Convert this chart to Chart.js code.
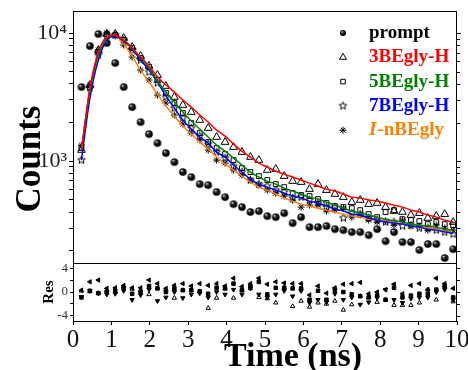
<!DOCTYPE html>
<html>
<head>
<meta charset="utf-8">
<script src="https://cdn.jsdelivr.net/npm/chart.js@4.4.1/dist/chart.umd.min.js"></script>
<style>
  html, body { margin: 0; padding: 0; background: #fff; }
</style>
</head>
<body>
<canvas id="decay" width="468" height="370"></canvas>
<script>
// time axis (ns), one entry per channel group
const times = [0.22, 0.44, 0.66, 0.88, 1.10, 1.32, 1.54, 1.76, 1.98, 2.20, 2.42, 2.64, 2.86, 3.08, 3.30,
  3.52, 3.74, 3.96, 4.18, 4.40, 4.62, 4.84, 5.06, 5.28, 5.50, 5.72, 5.94, 6.16, 6.38, 6.60,
  6.82, 7.04, 7.26, 7.48, 7.70, 7.92, 8.14, 8.36, 8.58, 8.80, 9.02, 9.24, 9.46, 9.68, 9.90];

// instrument response
const prompt = [3785, 7914, 9821, 8354, 5830, 3785, 2641, 2017, 1625, 1382, 1155, 982, 821, 750, 661,
  649, 573, 523, 461, 437, 400, 407, 372, 365, 392, 328, 365, 305, 305, 311,
  294, 289, 279, 279, 264, 294, 237, 279, 233, 233, 202, 225, 225, 175, 205];

// measured decays
const be3 = [1219, 3924, 7365, 9821, 9821, 9141, 7773, 6612, 5525, 4697, 3853, 3162, 2738, 2414, 2091,
  1810, 1540, 1407, 1286, 1176, 1075, 1018, 851, 866, 763, 698, 685, 604, 661, 593,
  553, 523, 478, 496, 461, 470, 437, 407, 400, 379, 392, 359, 372, 385, 334];
const be5 = [1264, 3785, 7107, 9821, 9647, 8816, 7635, 6379, 5426, 4296, 3398, 2838, 2371, 1981, 1655,
  1407, 1264, 1134, 1018, 882, 821, 763, 711, 661, 626, 562, 543, 533, 505, 470,
  445, 437, 429, 414, 385, 365, 400, 414, 352, 346, 340, 322, 334, 322, 316];
const be7 = [1018, 3718, 6732, 9475, 9647, 8816, 7365, 6153, 4958, 4068, 3162, 2594, 2168, 1810, 1568,
  1358, 1176, 1055, 914, 821, 711, 661, 638, 593, 573, 514, 523, 496, 470, 437,
  437, 359, 392, 385, 359, 346, 334, 334, 311, 316, 300, 300, 289, 279, 269];
const beN = [1334, 3924, 7365, 10000, 9475, 8058, 6494, 5140, 4296, 3278, 2838, 2288, 1945, 1655, 1459,
  1219, 1018, 965, 851, 777, 711, 649, 593, 562, 533, 496, 437, 453, 453, 407,
  414, 429, 365, 379, 346, 334, 340, 316, 346, 311, 311, 289, 316, 300, 289];

// fitted curves
const fit3 = [1219, 3718, 7107, 9307, 9647, 8816, 7635, 6494, 5525, 4532, 3924, 3459, 2996, 2641, 2288,
  2017, 1746, 1568, 1358, 1197, 1075, 965, 898, 835, 791, 750, 711, 673, 638, 604,
  583, 553, 523, 514, 496, 487, 470, 453, 437, 414, 400, 379, 365, 346, 334];
const fit5 = [1219, 3587, 6732, 9141, 9647, 8816, 7635, 6379, 5330, 4217, 3459, 2890, 2414, 2054, 1778,
  1540, 1334, 1197, 1055, 931, 821, 750, 698, 661, 615, 583, 553, 523, 505, 478,
  453, 429, 407, 392, 379, 365, 352, 340, 334, 322, 316, 311, 305, 294, 289];
const fit7 = [1018, 3106, 6153, 8816, 9475, 8660, 7499, 6153, 5140, 4142, 3219, 2594, 2091, 1778, 1540,
  1382, 1176, 1075, 931, 821, 724, 661, 626, 593, 562, 533, 514, 487, 470, 445,
  422, 407, 385, 379, 359, 346, 334, 328, 322, 311, 305, 294, 289, 279, 274];
const fitN = [1219, 3587, 6732, 9141, 9475, 8206, 6612, 5140, 4142, 3337, 2690, 2247, 1877, 1625, 1407,
  1241, 1075, 948, 851, 763, 685, 626, 593, 553, 514, 487, 461, 445, 429, 414,
  400, 385, 372, 365, 352, 346, 340, 328, 322, 311, 305, 300, 294, 284, 279];

// weighted residuals
const res3 = [0.3, 1.7, 2.0, 0.6, 0.7, 1.1, 0.7, 0.7, 2.0, 1.4, 0.6, 1.1, 1.4, 1.0, 1.4,
  1.1, 1.4, 1.0, 2.3, 0.9, 1.4, 2.3, 1.3, 1.7, 1.5, 1.4, 1.4, -0.5, 1.0, -0.2,
  0.7, 1.3, 1.4, 1.6, -0.3, 0.0, 0.4, 1.3, -0.3, 1.1, 1.4, 0.4, 2.3, 1.4, 0.6];
const res5 = [-0.9, 0.2, -0.2, 0.0, 0.2, 0.7, -0.3, 0.0, 1.0, 0.6, 0.0, 0.6, 0.3, 0.3, 0.1,
  -0.3, 0.7, 0.6, 1.4, 0.3, 1.0, 1.7, -0.4, 0.7, 0.7, 0.6, 0.6, -1.3, 0.2, -1.3,
  0.4, 0.0, -0.4, -0.7, -0.9, -0.6, -1.3, 0.7, -0.9, -0.6, -0.3, -0.3, 0.4, 1.0, -0.9];
const res7 = [-0.8, 0.2, -0.2, -0.4, -0.3, 0.2, -1.3, -0.5, 0.4, -1.5, -0.9, 0.0, -1.0, -0.4, -0.2,
  -0.9, 0.0, -0.4, 0.4, -0.4, 0.6, -0.4, -0.9, -0.4, 0.2, -0.7, 0.2, -1.8, -1.3, -1.7,
  -0.3, -1.3, -0.9, -2.1, -1.7, -1.0, 0.4, -1.3, -1.8, -1.1, -0.9, -0.9, 0.0, 0.4, -1.3];
const resN = [0.2, 0.1, -0.2, 0.3, 0.0, 0.9, 0.5, 0.3, -0.4, 0.6, 0.4, -1.0, 0.3, 0.3, 0.1,
  -2.7, -1.0, 0.6, -1.0, 0.3, 0.6, -0.9, -1.1, -1.8, 0.7, -2.4, -1.5, -2.5, -1.8, -2.0,
  -1.5, -3.0, -2.1, -0.7, -0.9, -1.7, -1.3, -2.2, -2.2, -2.2, -1.8, 0.4, -1.3, 1.0, -1.6];

// ticks
const timeTicks = [0, 1, 2, 3, 4, 5, 6, 7, 8, 9, 10];
const countTicks = [200, 300, 400, 500, 600, 700, 800, 900, 1000,
  2000, 3000, 4000, 5000, 6000, 7000, 8000, 9000, 10000];
const countLabels = { 1000: '10³', 10000: '10⁴' };
const resTicks = [-4, -2, 0, 2, 4];
const resLabels = [-4, 0, 4];

const serif = "'Liberation Serif', 'Times New Roman', serif";
const orange = '#ff8000';
const green = '#008000';

const pts = arr => times.map((t, i) => ({ x: t, y: arr[i] }));

// shaded ball used for the prompt points
function ball(r) {
  const c = document.createElement('canvas');
  const s = Math.ceil(2 * r + 2);
  c.width = c.height = s;
  const g = c.getContext('2d');
  const grad = g.createRadialGradient(s / 2 - r * 0.35, s / 2 - r * 0.4, 0.2, s / 2, s / 2, r);
  grad.addColorStop(0, '#f4f4f4');
  grad.addColorStop(0.22, '#555555');
  grad.addColorStop(0.55, '#0c0c0c');
  grad.addColorStop(1, '#000000');
  g.fillStyle = grad;
  g.beginPath();
  g.arc(s / 2, s / 2, r, 0, Math.PI * 2);
  g.fill();
  return c;
}

// open five point star
function star(r) {
  const c = document.createElement('canvas');
  const s = Math.ceil(2 * r + 3);
  c.width = c.height = s;
  const g = c.getContext('2d');
  g.strokeStyle = '#000';
  g.lineWidth = 1;
  g.beginPath();
  for (let i = 0; i < 10; i++) {
    const a = -Math.PI / 2 + i * Math.PI / 5;
    const rr = i % 2 ? r * 0.45 : r;
    g.lineTo(s / 2 + rr * Math.cos(a), s / 2 + rr * Math.sin(a));
  }
  g.closePath();
  g.stroke();
  return c;
}

const ballPt = ball(3.8);
const ballKey = ball(3);
const starPt = star(4);

function marks(label, arr, style, radius) {
  return {
    label: label,
    data: pts(arr),
    showLine: false,
    pointStyle: style,
    pointRadius: radius,
    pointBorderWidth: 1,
    pointBorderColor: '#000',
    pointBackgroundColor: 'rgba(0,0,0,0)',
    xAxisID: 'x',
    yAxisID: 'y',
    order: 2
  };
}

function curve(arr, color) {
  return {
    data: pts(arr),
    borderColor: color,
    borderWidth: 1.5,
    pointRadius: 0,
    cubicInterpolationMode: 'monotone',
    fill: false,
    xAxisID: 'x',
    yAxisID: 'y',
    order: 1
  };
}

function resid(arr, style, rot, filled) {
  return {
    data: pts(arr),
    showLine: false,
    pointStyle: style,
    pointRotation: rot,
    pointRadius: 2.5,
    pointBorderWidth: 1,
    pointBorderColor: '#000',
    pointBackgroundColor: filled ? '#000' : 'rgba(0,0,0,0)',
    xAxisID: 'x',
    yAxisID: 'yRes',
    order: 2
  };
}

// frame, mirrored ticks, axis titles and the key
const decor = {
  id: 'decor',
  afterDraw(chart) {
    const { ctx, chartArea: a, scales } = chart;
    const y = scales.y, r = scales.yRes;
    ctx.save();
    ctx.strokeStyle = '#000';
    ctx.lineWidth = 1;
    ctx.strokeRect(a.left + 0.5, a.top + 0.5, a.right - a.left - 1, a.bottom - a.top);
    ctx.beginPath();
    ctx.moveTo(a.left, Math.round(y.bottom) + 0.5);
    ctx.lineTo(a.right, Math.round(y.bottom) + 0.5);
    ctx.stroke();

    ctx.beginPath();
    countTicks.forEach(v => {
      const p = Math.round(y.getPixelForValue(v)) + 0.5;
      const len = countLabels[v] ? 4 : 3;
      ctx.moveTo(a.right - 0.5, p);
      ctx.lineTo(a.right + len, p);
    });
    resTicks.forEach(v => {
      const p = Math.round(r.getPixelForValue(v)) + 0.5;
      ctx.moveTo(a.right - 0.5, p);
      ctx.lineTo(a.right + 3, p);
    });
    ctx.stroke();

    ctx.fillStyle = '#000';
    ctx.textAlign = 'center';
    ctx.textBaseline = 'middle';
    ctx.font = 'bold 35px ' + serif;
    ctx.save();
    ctx.translate(31, y.top + 148);
    ctx.rotate(-Math.PI / 2);
    ctx.fillText('Counts', 0, 0);
    ctx.restore();

    ctx.font = 'bold 15px ' + serif;
    ctx.save();
    ctx.translate(49, r.getPixelForValue(0));
    ctx.rotate(-Math.PI / 2);
    ctx.fillText('Res', 0, 0);
    ctx.restore();

    ctx.textBaseline = 'alphabetic';
    ctx.font = 'bold 34px ' + serif;
    ctx.fillText('Time (ns)', 293, 366);

    // key
    const keyX = 343, textX = 369;
    const rows = [
      { text: 'prompt', color: '#000', style: ballKey, radius: 3 },
      { text: '3BEgly-H', color: '#ff0000', style: 'triangle', radius: 4 },
      { text: '5BEgly-H', color: green, style: 'rect', radius: 3.2 },
      { text: '7BEgly-H', color: '#0000ff', style: starPt, radius: 4 },
      { text: '-nBEgly', color: orange, style: 'star', radius: 3.5, italic: 'I' }
    ];
    ctx.textAlign = 'left';
    ctx.textBaseline = 'middle';
    rows.forEach((row, i) => {
      const cy = 33 + i * 24.3;
      ctx.strokeStyle = '#000';
      ctx.fillStyle = 'rgba(0,0,0,0)';
      ctx.lineWidth = 1;
      Chart.helpers.drawPoint(ctx, { pointStyle: row.style, radius: row.radius, borderWidth: 1, rotation: 0 }, keyX, cy);
      ctx.fillStyle = row.color;
      let tx = textX;
      if (row.italic) {
        ctx.font = 'italic bold 19px ' + serif;
        ctx.fillText(row.italic, tx, cy);
        tx += ctx.measureText(row.italic).width + 1;
      }
      ctx.font = 'bold 19px ' + serif;
      ctx.fillText(row.text, tx, cy);
    });
    ctx.restore();
  }
};

new Chart(document.getElementById('decay'), {
  type: 'line',
  data: {
    datasets: [
      curve(fit3, '#ff0000'),
      curve(fit5, green),
      curve(fit7, '#0000ff'),
      curve(fitN, orange),
      marks('prompt', prompt, ballPt, 3.8),
      marks('3BEgly-H', be3, 'triangle', 4.5),
      marks('5BEgly-H', be5, 'rect', 3.4),
      marks('7BEgly-H', be7, starPt, 4),
      marks('I-nBEgly', beN, 'star', 3.5),
      resid(res3, 'triangle', -90, true),
      resid(res5, 'rect', 0, true),
      resid(res7, 'triangle', 180, true),
      resid(resN, 'triangle', 0, false)
    ]
  },
  options: {
    responsive: false,
    animation: false,
    events: [],
    layout: { padding: { left: 0, right: 11, top: 11, bottom: 0 } },
    plugins: { legend: { display: false }, tooltip: { enabled: false } },
    scales: {
      x: {
        type: 'linear',
        min: 0,
        max: 10,
        afterBuildTicks: s => { s.ticks = timeTicks.map(v => ({ value: v })); },
        afterFit: s => { s.height = 49; s.paddingLeft = 0; s.paddingRight = 0; },
        ticks: { font: { family: serif, size: 25 }, color: '#111', padding: 0, maxRotation: 0, autoSkip: false },
        grid: { drawOnChartArea: false, tickLength: 4, color: '#000' },
        border: { color: '#000' }
      },
      yRes: {
        type: 'linear',
        axis: 'y',
        position: 'left',
        stack: 'panels',
        stackWeight: 58,
        min: -4.85,
        max: 4.85,
        afterBuildTicks: s => { s.ticks = resTicks.map(v => ({ value: v })); },
        afterFit: s => { s.width = 73; s.paddingTop = 0; s.paddingBottom = 0; },
        ticks: {
          font: { family: serif, size: 13 }, color: '#333', padding: 2, autoSkip: false,
          callback: v => resLabels.includes(v) ? String(v) : ''
        },
        grid: { drawOnChartArea: false, tickLength: 3, color: '#000' },
        border: { color: '#000' }
      },
      y: {
        type: 'logarithmic',
        position: 'left',
        stack: 'panels',
        stackWeight: 252,
        min: 160,
        max: 14860,
        afterBuildTicks: s => { s.ticks = countTicks.map(v => ({ value: v })); },
        afterFit: s => { s.width = 73; s.paddingTop = 0; s.paddingBottom = 0; },
        ticks: {
          font: { family: serif, size: 22 }, color: '#222', padding: 2, autoSkip: false,
          callback: v => countLabels[v] || ''
        },
        grid: { drawOnChartArea: false, tickLength: 4, color: '#000' },
        border: { color: '#000' }
      }
    }
  },
  plugins: [decor]
});
</script>
</body>
</html>
